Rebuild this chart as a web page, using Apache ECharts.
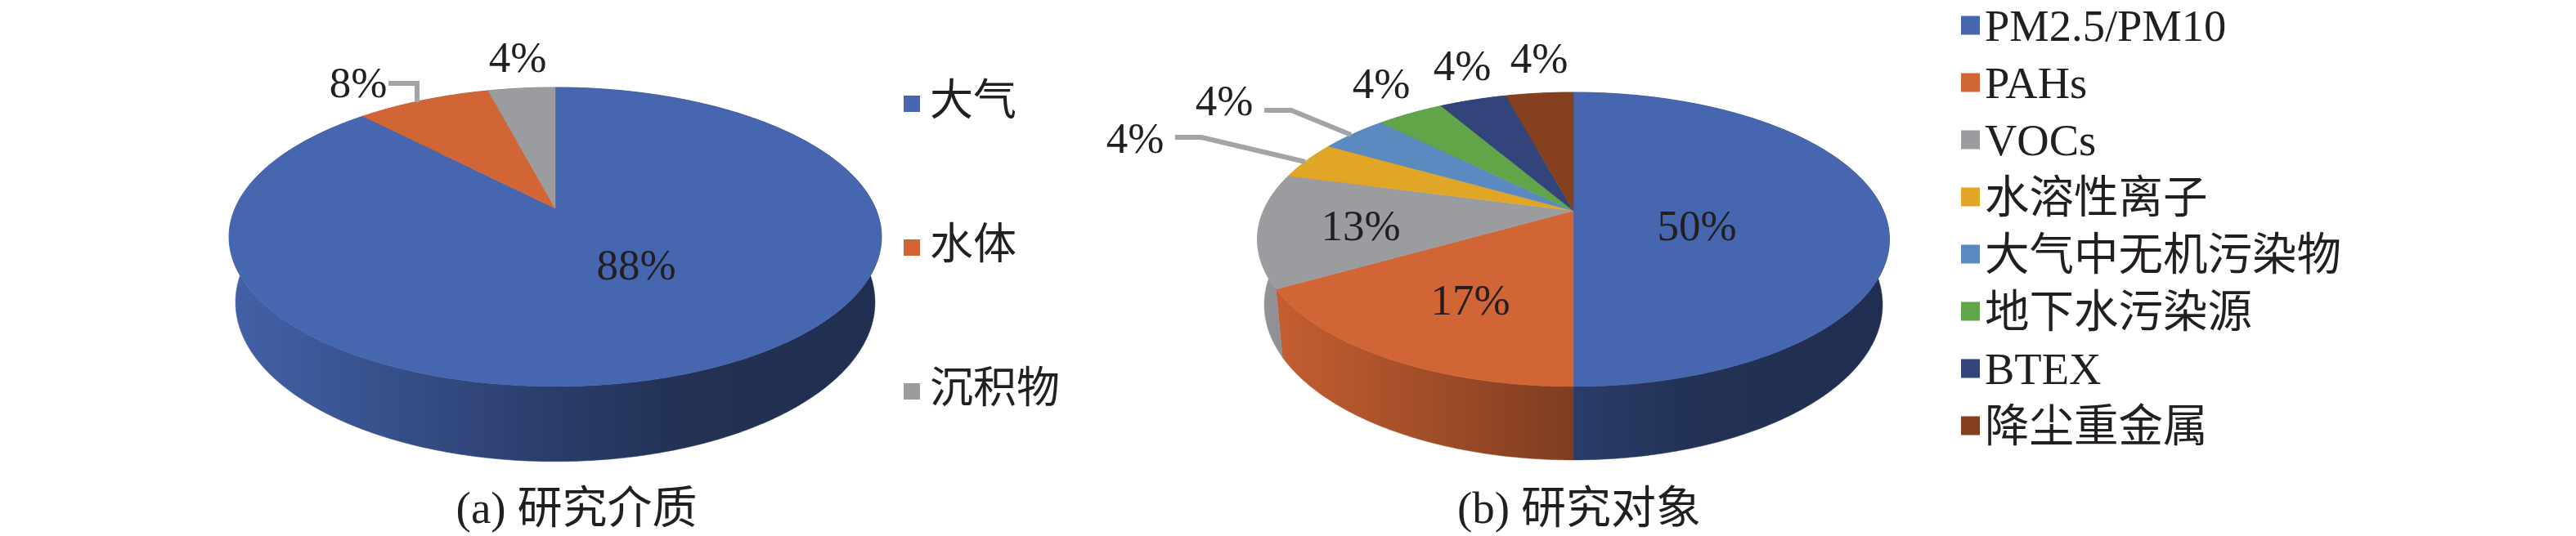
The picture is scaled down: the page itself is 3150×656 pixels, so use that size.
<!DOCTYPE html>
<html><head><meta charset="utf-8">
<style>html,body{margin:0;padding:0;background:#fff}#c{width:3150px;height:656px}</style>
<script src="https://cdn.jsdelivr.net/npm/echarts@6/dist/echarts.min.js"></script>
</head><body><div id="c"></div>
<script>
// ---- data ----
const categoriesA = ['大气', '水体', '沉积物'];
const valuesA = [88, 8, 4];
const categoriesB = ['PM2.5/PM10', 'PAHs', 'VOCs', '水溶性离子', '大气中无机污染物', '地下水污染源', 'BTEX', '降尘重金属'];
const valuesB = [50, 16.67, 12.5, 4.17, 4.17, 4.17, 4.16, 4.16];
const captionA = '(a) 研究介质';
const captionB = '(b) 研究对象';

// ---- styles and layout ----
const colorsA = ['#4666b0', '#d26535', '#9a9ca0'];
const colorsB = ['#4666b0', '#d26535', '#9a9ca0', '#e2a626', '#5a8ac0', '#62a548', '#33447a', '#85401f'];
const FONT = '"Liberation Serif","Noto Sans CJK SC",serif';
const INK = '#231f20';
const shade = [[0, .95], [.15, .85], [.5, .6], [.7, .48], [1, .46]];

const layoutA = {
  k: .191,
  top: {cx: 679, apex: 255, A: 391.6, B: 176.3},
  bot: {cx: 679, apex: 332.7, A: 383.8, B: 187.8},
  x0: 280, x1: 1078,
  labels: [[778, 328], [438, 105], [633, 74]],
  leaders: [null, [[475, 102], [510, 102], [510, 125]], null]
};
const layoutB = {
  k: .1945,
  top: {cx: 1924, apex: 258, A: 379.1, B: 173.2},
  bot: {cx: 1924, apex: 336, A: 370.8, B: 182.8},
  x0: 1537, x1: 2310,
  labels: [[2075, 280], [1798, 371], [1664, 280], [1388, 173], [1497, 127], [1689, 106], [1788, 84], [1882, 75]],
  leaders: [null, null, null, [[1437, 168], [1469, 168], [1596, 198]], [[1546, 135], [1579, 135], [1652, 165]], null, null, null]
};

function project(p, k, t) {
  const u = Math.sin(t), v = Math.cos(t), w = 1 + k * v;
  return [p.cx + p.A * u / w, p.apex - p.B * v / w];
}
function darken(hex, f) {
  const n = parseInt(hex.slice(1), 16);
  const c = [n >> 16 & 255, n >> 8 & 255, n & 255].map(x => Math.round(x * f));
  return 'rgb(' + c.join(',') + ')';
}
function arc(p, k, a, b) {
  const n = Math.max(2, Math.ceil((b - a) / 0.01)), pts = [];
  for (let i = 0; i <= n; i++) pts.push(project(p, k, a + (b - a) * i / n));
  return pts;
}

function buildPie(names, values, colors, L) {
  const total = values.reduce((s, v) => s + v, 0);
  const out = [];
  let acc = 0;
  const spans = values.map(v => { const a = acc / total * 2 * Math.PI; acc += v; return [a, acc / total * 2 * Math.PI]; });

  // sides of the cylinder
  out.push({
    type: 'custom', coordinateSystem: 'none', silent: true, z: 1, clip: false,
    data: values.map(v => [v]),
    renderItem(params) {
      const i = params.dataIndex, s = spans[i];
      const stops = shade.map(([o, f]) => ({offset: o, color: darken(colors[i], f)}));
      const fill = {type: 'linear', x: L.x0, y: 0, x2: L.x1, y2: 0, global: true, colorStops: stops};
      const pts = arc(L.top, L.k, s[0], s[1]).concat(arc(L.bot, L.k, s[0], s[1]).reverse());
      return {type: 'polygon', shape: {points: pts}, style: {fill, stroke: fill, lineWidth: .5}};
    }
  });

  // top faces, one named series per slice for the legend
  names.forEach((name, i) => {
    out.push({
      type: 'custom', name, coordinateSystem: 'none', silent: true, z: 2, clip: false,
      itemStyle: {color: colors[i]},
      data: [[values[i]]],
      renderItem() {
        const s = spans[i];
        const pts = [[L.top.cx, L.top.apex]].concat(arc(L.top, L.k, s[0], s[1]));
        return {type: 'polygon', shape: {points: pts}, style: {fill: colors[i], stroke: colors[i], lineWidth: .5}};
      }
    });
  });

  // percentage labels and leader lines
  out.push({
    type: 'custom', coordinateSystem: 'none', silent: true, z: 3, clip: false,
    data: values.map(v => [v]),
    renderItem(params, api) {
      const i = params.dataIndex, pos = L.labels[i], children = [];
      if (L.leaders[i]) children.push({
        type: 'polyline', shape: {points: L.leaders[i]},
        style: {fill: 'none', stroke: '#a3a4a8', lineWidth: 6, lineJoin: 'miter'}
      });
      children.push({
        type: 'text', x: pos[0], y: pos[1],
        style: {text: Math.round(api.value(0) / total * 100) + '%', fill: INK,
                font: '53px ' + FONT, textAlign: 'center', textVerticalAlign: 'middle'}
      });
      return {type: 'group', children};
    }
  });
  return out;
}

const option = {
  animation: false,
  backgroundColor: '#fff',
  title: [
    {text: captionA, left: 700, top: 593, textAlign: 'center',
     textStyle: {fontFamily: FONT, fontSize: 55, fontWeight: 'normal', color: INK}},
    {text: captionB, left: 1926, top: 593, textAlign: 'center',
     textStyle: {fontFamily: FONT, fontSize: 55, fontWeight: 'normal', color: INK}}
  ],
  legend: [
    {data: categoriesA, orient: 'vertical', left: 1105, top: 97, padding: 0, itemWidth: 20, itemHeight: 20,
     itemGap: 116, icon: 'rect', selectedMode: false,
     textStyle: {fontFamily: FONT, fontSize: 53, lineHeight: 60, color: INK, padding: [0, 0, 0, 7]}},
    {data: categoriesB, orient: 'vertical', left: 2398, top: 6, padding: 0, itemWidth: 23, itemHeight: 33,
     itemGap: 10, icon: 'path://M0 0H23V23H0Z M0 32.99H0.01V33H0Z', selectedMode: false,
     textStyle: {fontFamily: FONT, fontSize: 54.5, lineHeight: 60, color: INK, padding: [0, 0, 0, 1]}}
  ],
  series: buildPie(categoriesA, valuesA, colorsA, layoutA)
    .concat(buildPie(categoriesB, valuesB, colorsB, layoutB))
};
echarts.init(document.getElementById('c'), null, {renderer: 'canvas'}).setOption(option);
</script></body></html>
